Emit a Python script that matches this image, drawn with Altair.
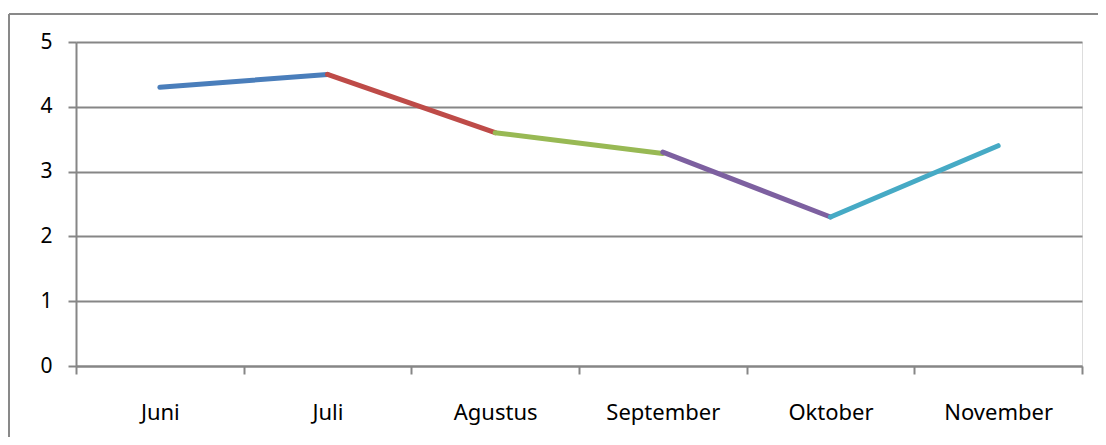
import altair as alt
import pandas as pd

months = ["Juni", "Juli", "Agustus", "September", "Oktober", "November"]
segment_ids = ["s1", "s1", "s2", "s2", "s3", "s3", "s4", "s4", "s5", "s5"]
segment_months = ["Juni", "Juli", "Juli", "Agustus", "Agustus", "September",
                  "September", "Oktober", "Oktober", "November"]
segment_values = [4.3, 4.5, 4.5, 3.6, 3.6, 3.28, 3.3, 2.3, 2.3, 3.4]
segment_order = [0, 1, 0, 1, 0, 1, 0, 1, 0, 1]
segment_colors = ["#4a7ebb", "#be4b48", "#98b954", "#7d60a0", "#46aac5"]

df = pd.DataFrame({"seg": segment_ids, "month": segment_months,
                   "value": segment_values, "ord": segment_order})

W, H = 1006, 324
GRAY = "#868686"
FONT = "Noto Sans"

x = alt.X("month:N", sort=months,
          scale=alt.Scale(domain=months, paddingInner=0, paddingOuter=0),
          axis=alt.Axis(title=None, labelAngle=0, tickBand="extent",
                        domainColor=GRAY, domainWidth=2, tickColor=GRAY,
                        tickWidth=2, tickSize=8, labelPadding=28,
                        labelFontSize=22, labelFont=FONT, labelColor="#000000",
                        grid=False))
y = alt.Y("value:Q", scale=alt.Scale(domain=[0, 5], nice=False),
          axis=alt.Axis(title=None, values=[0, 1, 2, 3, 4, 5], format="d",
                        domainColor=GRAY, domainWidth=2, tickColor=GRAY,
                        tickWidth=2, tickSize=8, labelPadding=16,
                        labelFontSize=21, labelFont=FONT, labelColor="#000000",
                        grid=True, gridColor=GRAY, gridWidth=2))

lines = alt.Chart(df).mark_line(strokeWidth=5, strokeCap="round").encode(
    x=x, y=y, order="ord:Q",
    color=alt.Color("seg:N", scale=alt.Scale(domain=["s1", "s2", "s3", "s4", "s5"],
                                             range=segment_colors), legend=None),
    detail="seg:N",
)

border_top = alt.Chart(df).mark_rule(color="#898989", strokeWidth=2).encode(
    x=alt.value(-67), x2=alt.value(1040), y=alt.value(-28))
border_left = alt.Chart(df).mark_rule(color="#898989", strokeWidth=2).encode(
    x=alt.value(-67), y=alt.value(-28), y2=alt.value(400))

chart = alt.layer(border_top, border_left, lines).properties(
    width=W, height=H,
    autosize=alt.AutoSizeParams(type="none"),
    padding={"left": 68, "top": 34, "right": 16, "bottom": 71},
).configure_view(stroke=None).configure(background="white")

chart.save("out.html", embed_options={"renderer": "svg", "actions": False})
